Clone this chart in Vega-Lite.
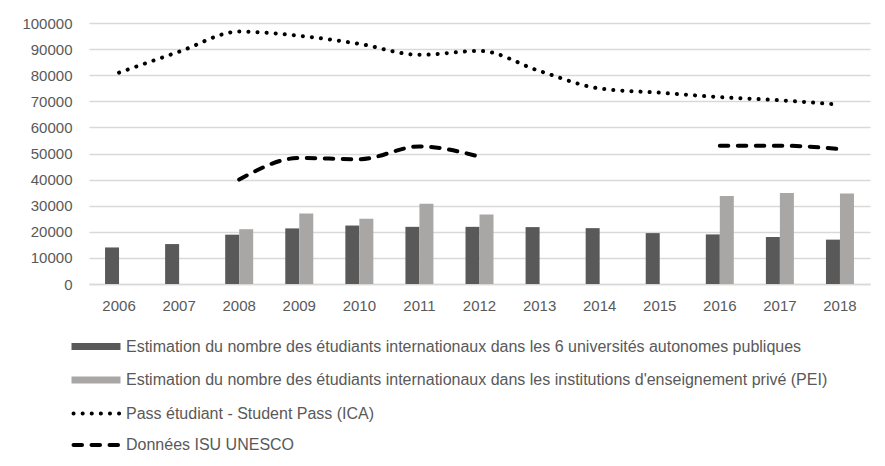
{
  "$schema": "https://vega.github.io/schema/vega-lite/v6.json",
  "autosize": "none",
  "width": 781,
  "height": 261,
  "padding": {"left": 89, "top": 23, "right": 15, "bottom": 182},
  "background": "white",
  "config": {
    "view": {"stroke": null},
    "font": "Liberation Sans",
    "axis": {"labelFont": "Liberation Sans", "labelFontSize": 15, "labelColor": "#595959", "ticks": false, "title": null},
    "legend": {"labelFont": "Liberation Sans", "labelFontSize": 16, "labelColor": "#595959", "labelLimit": 900, "padding": 0, "title": null, "direction": "vertical", "orient": "none"}
  },
  "data": {
    "values": [
      {"year": "2006", "series": "Estimation du nombre des étudiants internationaux dans les 6 universités autonomes publiques", "value": 14000},
      {"year": "2007", "series": "Estimation du nombre des étudiants internationaux dans les 6 universités autonomes publiques", "value": 15300},
      {"year": "2008", "series": "Estimation du nombre des étudiants internationaux dans les 6 universités autonomes publiques", "value": 18900},
      {"year": "2009", "series": "Estimation du nombre des étudiants internationaux dans les 6 universités autonomes publiques", "value": 21300},
      {"year": "2010", "series": "Estimation du nombre des étudiants internationaux dans les 6 universités autonomes publiques", "value": 22400},
      {"year": "2011", "series": "Estimation du nombre des étudiants internationaux dans les 6 universités autonomes publiques", "value": 21900},
      {"year": "2012", "series": "Estimation du nombre des étudiants internationaux dans les 6 universités autonomes publiques", "value": 21900},
      {"year": "2013", "series": "Estimation du nombre des étudiants internationaux dans les 6 universités autonomes publiques", "value": 21800},
      {"year": "2014", "series": "Estimation du nombre des étudiants internationaux dans les 6 universités autonomes publiques", "value": 21400},
      {"year": "2015", "series": "Estimation du nombre des étudiants internationaux dans les 6 universités autonomes publiques", "value": 19500},
      {"year": "2016", "series": "Estimation du nombre des étudiants internationaux dans les 6 universités autonomes publiques", "value": 19000},
      {"year": "2017", "series": "Estimation du nombre des étudiants internationaux dans les 6 universités autonomes publiques", "value": 18000},
      {"year": "2018", "series": "Estimation du nombre des étudiants internationaux dans les 6 universités autonomes publiques", "value": 17000},
      {"year": "2008", "series": "Estimation du nombre des étudiants internationaux dans les institutions d'enseignement privé (PEI)", "value": 21000},
      {"year": "2009", "series": "Estimation du nombre des étudiants internationaux dans les institutions d'enseignement privé (PEI)", "value": 27000},
      {"year": "2010", "series": "Estimation du nombre des étudiants internationaux dans les institutions d'enseignement privé (PEI)", "value": 25000},
      {"year": "2011", "series": "Estimation du nombre des étudiants internationaux dans les institutions d'enseignement privé (PEI)", "value": 30700},
      {"year": "2012", "series": "Estimation du nombre des étudiants internationaux dans les institutions d'enseignement privé (PEI)", "value": 26600},
      {"year": "2016", "series": "Estimation du nombre des étudiants internationaux dans les institutions d'enseignement privé (PEI)", "value": 33700},
      {"year": "2017", "series": "Estimation du nombre des étudiants internationaux dans les institutions d'enseignement privé (PEI)", "value": 34900},
      {"year": "2018", "series": "Estimation du nombre des étudiants internationaux dans les institutions d'enseignement privé (PEI)", "value": 34700},
      {"year": "2006", "series": "Pass étudiant - Student Pass (ICA)", "value": 81000},
      {"year": "2007", "series": "Pass étudiant - Student Pass (ICA)", "value": 89000},
      {"year": "2008", "series": "Pass étudiant - Student Pass (ICA)", "value": 96700},
      {"year": "2009", "series": "Pass étudiant - Student Pass (ICA)", "value": 95100},
      {"year": "2010", "series": "Pass étudiant - Student Pass (ICA)", "value": 92000},
      {"year": "2011", "series": "Pass étudiant - Student Pass (ICA)", "value": 87800},
      {"year": "2012", "series": "Pass étudiant - Student Pass (ICA)", "value": 89300},
      {"year": "2013", "series": "Pass étudiant - Student Pass (ICA)", "value": 81600},
      {"year": "2014", "series": "Pass étudiant - Student Pass (ICA)", "value": 74900},
      {"year": "2015", "series": "Pass étudiant - Student Pass (ICA)", "value": 73300},
      {"year": "2016", "series": "Pass étudiant - Student Pass (ICA)", "value": 71600},
      {"year": "2017", "series": "Pass étudiant - Student Pass (ICA)", "value": 70400},
      {"year": "2018", "series": "Pass étudiant - Student Pass (ICA)", "value": 68700},
      {"year": "2008", "series": "Données ISU UNESCO", "value": 40000},
      {"year": "2009", "series": "Données ISU UNESCO", "value": 48300},
      {"year": "2010", "series": "Données ISU UNESCO", "value": 47800},
      {"year": "2011", "series": "Données ISU UNESCO", "value": 52700},
      {"year": "2012", "series": "Données ISU UNESCO", "value": 48800},
      {"year": "2013", "series": "Données ISU UNESCO", "value": null},
      {"year": "2014", "series": "Données ISU UNESCO", "value": null},
      {"year": "2015", "series": "Données ISU UNESCO", "value": null},
      {"year": "2016", "series": "Données ISU UNESCO", "value": 53000},
      {"year": "2017", "series": "Données ISU UNESCO", "value": 53000},
      {"year": "2018", "series": "Données ISU UNESCO", "value": 51700}
    ]
  },
  "encoding": {
    "x": {
      "field": "year", "type": "ordinal", "bandPosition": 0.5,
      "scale": {"paddingInner": 0.534, "paddingOuter": 0.267},
      "axis": {"labelAngle": 0, "labelPadding": 14, "domainColor": "#d9d9d9", "domainWidth": 1.3, "grid": false}
    },
    "y": {
      "field": "value", "type": "quantitative",
      "scale": {"domain": [0, 100000], "nice": false},
      "axis": {"values": [0, 10000, 20000, 30000, 40000, 50000, 60000, 70000, 80000, 90000, 100000], "format": "d", "domain": false, "gridColor": "#d9d9d9", "gridWidth": 1.3, "labelPadding": 17}
    }
  },
  "layer": [
    {
      "transform": [{"filter": "indexof(datum.series, 'Estimation') >= 0"}],
      "mark": {"type": "bar", "opacity": 1},
      "encoding": {
        "xOffset": {"field": "series", "type": "nominal", "scale": {"paddingInner": 0, "paddingOuter": 0}},
        "color": {
          "field": "series", "type": "nominal",
          "scale": {
            "domain": [
              "Estimation du nombre des étudiants internationaux dans les 6 universités autonomes publiques",
              "Estimation du nombre des étudiants internationaux dans les institutions d'enseignement privé (PEI)"
            ],
            "range": ["#595959", "#a9a6a6"]
          },
          "legend": {
            "legendX": -5.5, "legendY": 311,
            "symbolType": "M-2,-0.28H2V0.28H-2Z", "symbolSize": 600, "symbolStrokeWidth": 0,
            "rowPadding": 12.5, "labelOffset": 17.5
          }
        }
      }
    },
    {
      "transform": [{"filter": "indexof(datum.series, 'Estimation') < 0"}],
      "mark": {"type": "line", "interpolate": "monotone", "strokeWidth": 4, "strokeCap": "round", "color": "#000000", "invalid": "break-paths-show-domains"},
      "encoding": {
        "strokeDash": {
          "field": "series", "type": "nominal",
          "scale": {
            "domain": ["Pass étudiant - Student Pass (ICA)", "Données ISU UNESCO"],
            "range": [[0.1, 9], [8.5, 9.5]]
          },
          "legend": {
            "legendX": -5.5, "legendY": 376,
            "symbolType": "M-2,0H2", "symbolSize": 600, "symbolStrokeWidth": 4, "symbolStrokeColor": "#000000",
            "rowPadding": 8.5, "labelOffset": 13.5,
            "encoding": {"symbols": {"strokeCap": {"value": "round"}}}
          }
        }
      }
    }
  ]
}
